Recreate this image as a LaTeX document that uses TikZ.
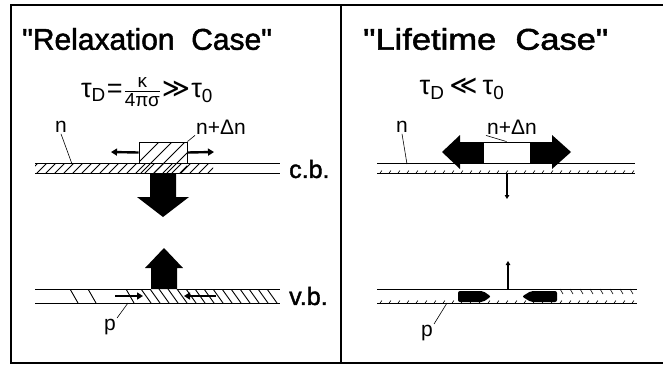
\documentclass[tikz,border=0pt]{standalone}
\usepackage{amsmath}
\usepackage{fontspec}
\setmainfont{Liberation Sans}
\newfontfamily\heavyfont{Liberation Sans}[FakeBold=1.6]
\newfontfamily\symfont{DejaVu Sans}
\usetikzlibrary{positioning,arrows.meta,calc}

\begin{document}
\begin{tikzpicture}[x=1pt, y=-1pt,
    frame/.style={line width=1.3pt},
    band/.style={line width=0.9pt},
    hatch/.style={line width=0.9pt},
    lbl/.style={inner sep=1pt, font=\fontsize{21}{21}\selectfont},
    bandlbl/.style={anchor=west, inner sep=0pt, font=\heavyfont\fontsize{25}{25}\selectfont},
    title/.style={anchor=west, inner sep=0pt, font=\heavyfont\fontsize{30}{30}\selectfont},
    formula/.style={inner sep=0pt, font=\fontsize{27}{27}\selectfont},
    lead/.style={line width=0.6pt},
    thinarr/.style={line width=2.4pt, -{Triangle[length=6pt,width=7pt]}},
    tinyarr/.style={line width=1.6pt, -{Triangle[length=4pt,width=4.5pt]}}
  ]
    \useasboundingbox (0,0) rectangle (663,365);

    % frame of the two panels
    \draw[frame] (663,5) -- (11,5) -- (11,363) -- (663,363);
    \draw[frame] (341,5) -- (341,363);

    % ---------------- relaxation case ----------------
    \node[title] (rtitle) at (22,39) {"Relaxation\ \ Case"};
    \node[formula] (rform) at (147,92) {τ\textsubscript{D}\kern1pt=\kern1pt$\frac{\text{κ}}{\text{4πσ}}$\kern1pt{\symfont ≫}\kern1ptτ\textsubscript{0}};

    % conduction band
    \draw[band] (35,163) -- (139,163) (187,163) -- (280,163);
    \draw[band] (35,173) -- (280,173);
    \begin{scope}
      \clip (35,163) rectangle (213,173);
      \foreach \x in {28,37,...,220}
        \draw[hatch] (\x,173) -- ++(10,-10);
    \end{scope}
    \node[draw, line width=0.9pt, minimum width=48pt, minimum height=21pt, inner sep=0pt] (rbox) at (163,152.5) {};
    \begin{scope}
      \clip (139,142) rectangle (187,173);
      \foreach \x in {128,141,...,190}
        \draw[hatch] (\x,173) -- ++(31,-31);
    \end{scope}
    \coordinate (rleft) at (111,152);
    \coordinate (rright) at (214,152);
    \draw[thinarr] (rbox.west) -- (rleft);
    \draw[thinarr] (rbox.east) -- (rright);

    % recombination arrows
    \fill (150,173) -- (176,173) -- (176,197) -- (189,197) -- (163,217) -- (137,197) -- (150,197) -- cycle;
    \fill (151,289) -- (177,289) -- (177,268) -- (183,268) -- (164,248) -- (145,268) -- (151,268) -- cycle;

    % valence band
    \draw[band] (35,289) -- (151,289) (177,289) -- (280,289);
    \draw[band] (35,303) -- (280,303);
    \begin{scope}
      \clip (35,289) rectangle (280,303);
      \foreach \x in {70,88,126}
        \draw[hatch] (\x,289) -- ++(8,14);
      \foreach \x in {141,150,...,275}
        \draw[hatch] (\x,289) -- ++(10,14);
    \end{scope}
    \coordinate (rvbl) at (115,296);
    \coordinate (rvblt) at (143,296);
    \coordinate (rvbr) at (216,296);
    \coordinate (rvbrt) at (184,296);
    \draw[thinarr] (rvbl) -- (rvblt);
    \draw[thinarr] (rvbr) -- (rvbrt);

    % labels
    \node[lbl] (rn) at (61,127) {n};
    \node[lbl] (rnd) at (221,127) {n+Δn};
    \node[lbl] (rp) at (110,327) {p};
    \coordinate (rnfoot) at (72,164);
    \coordinate (rpfoot) at (128,303);
    \draw[lead] (rn.south) -- (rnfoot);
    \draw[lead] (rnd.south west) -- (rbox.north east);
    \draw[lead] (rp.north east) -- (rpfoot);
    \node[bandlbl] (rcb) at (289,169) {c.b.};
    \node[bandlbl] (rvb) at (289,296) {v.b.};

    % ---------------- lifetime case ----------------
    \node[title] (ltitle) at (363,39) {\scalebox{1.15}[1]{"Lifetime\ \ Case"}};
    \node[formula] (lform) at (462,89) {τ\textsubscript{D}\kern5pt{\symfont ≪}\kern5ptτ\textsubscript{0}};

    % conduction band
    \draw[band] (377,163) -- (635,163);
    \draw[band] (377,173) -- (635,173);
    \foreach \x in {380,389,...,632}
      \draw[lead] (\x,173) -- ++(2,-2.5);
    \node[draw, fill=white, line width=0.9pt, minimum width=47pt, minimum height=21pt, inner sep=0pt] (lbox) at (506.5,152.5) {};
    \fill (483,142) -- (460,142) -- (460,135) -- (442,152) -- (460,169) -- (460,163) -- (483,163) -- cycle;
    \fill (530,142) -- (552,142) -- (552,135) -- (571,152) -- (552,169) -- (552,163) -- (530,163) -- cycle;
    \coordinate (ldown) at (507,173);
    \coordinate (ldownt) at (507,199);
    \draw[tinyarr] (ldown) -- (ldownt);

    % valence band
    \draw[band] (377,289) -- (637,289);
    \draw[band] (377,303) -- (637,303);
    \foreach \x in {380,389,...,632}
      \draw[lead] (\x,303) -- ++(2,-2.5);
    \foreach \x in {560,570,...,630}
      \draw[lead] (\x,289) -- ++(3,5);
    \coordinate (lup) at (508,289);
    \coordinate (lupt) at (508,261);
    \draw[tinyarr] (lup) -- (lupt);
    \fill[rounded corners=2pt] (458,291) -- (483,291) -- (491,296.5) -- (483,302) -- (458,302) -- cycle;
    \fill[rounded corners=2pt] (557,291) -- (531,291) -- (522,296.5) -- (531,302) -- (557,302) -- cycle;

    % labels
    \node[lbl] (ln) at (402,127) {n};
    \node[lbl] (lnd) at (512,127) {n+Δn};
    \node[lbl] (lp) at (427,333) {p};
    \coordinate (lnfoot) at (407,164);
    \coordinate (lpfoot) at (447,303);
    \draw[lead] (ln.south) -- (lnfoot);
    \draw[lead] (lnd.south west) -- (lbox.north);
    \draw[lead] (lp.north east) -- (lpfoot);
  \end{tikzpicture}
\end{document}
